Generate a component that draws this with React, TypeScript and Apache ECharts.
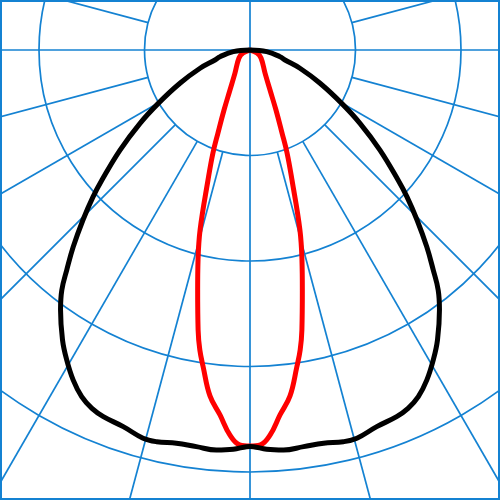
import React, { useEffect, useRef } from "react";
import * as echarts from "echarts";

// gamma angle (deg from nadir) and intensity, left half; right half mirrors it
const blackGamma = [0, 0.5, 2.4, 4.8, 7.7, 10.6, 13.4, 15.4, 18.6, 21.8, 23.8, 25.9, 28.2, 30.6, 32.9, 36.1, 38.1, 39.8, 41.9, 44.5, 46.9, 48.7, 52.4, 56.3, 59.8, 64.6, 69.9, 74.1, 77.4, 84.3, 90];
const blackValue = [375.8, 376.0, 378.8, 380.5, 379.4, 379.2, 381.7, 381.7, 376.7, 374.3, 371.3, 365.3, 354.8, 341.3, 327.2, 304.8, 289.1, 271.3, 251.0, 225.9, 203.8, 186.8, 155.5, 125.3, 100.6, 73.5, 50.4, 34.5, 29.1, 15.9, 0];

const redGamma = [0, 1.5, 3.0, 4.7, 6.6, 8.4, 9.5, 10.5, 12.3, 13.9, 15.5, 17.9, 19.8, 21.1, 23.4, 26.6, 33.1, 54, 66.8, 90];
const redValue = [375.4, 374.5, 365.4, 347.1, 330.1, 303.7, 288.2, 269.9, 232.9, 205.0, 177.1, 129.5, 103.7, 84.4, 62.0, 42.4, 26.1, 12.9, 7.2, 0];

const gridAngles = [-165, -150, -135, -120, -105, -90, -75, -60, -45, -30, -15, 0, 15, 30, 45, 60, 75, 90, 105, 120, 135, 150, 165, 180];
const radiusMax = 500;
const ringStep = 100;

const BLUE = "#1482d2";

function curve(gamma: number[], value: number[]) {
  const right = gamma.map((g, i) => [value[i], -g]).reverse();
  const left = gamma.slice(1).map((g, i) => [value[i + 1], g]);
  return [...right, ...left];
}

const App: React.FC = () => {
  const chartRef = useRef<HTMLDivElement>(null);
  useEffect(() => {
    document.body.style.margin = "0";
    const myChart = echarts.init(chartRef.current as HTMLDivElement, null, { renderer: "svg" });

    const gridSeries = gridAngles.map((a) => ({
      type: "line",
      coordinateSystem: "polar",
      silent: true,
      symbol: "none",
      lineStyle: { color: BLUE, width: 1.7 },
      data: [
        [a % 90 === 0 ? 0 : ringStep, a],
        [radiusMax, a],
      ],
    }));

    const option: echarts.EChartsOption = {
      animation: false,
      polar: { center: [250, 50], radius: 527.5 },
      angleAxis: {
        type: "value",
        min: -180,
        max: 180,
        startAngle: 90,
        clockwise: true,
        axisLine: { show: false },
        axisTick: { show: false },
        axisLabel: { show: false },
        splitLine: { show: false },
      },
      radiusAxis: {
        type: "value",
        min: 0,
        max: radiusMax,
        interval: ringStep,
        axisLine: { show: false },
        axisTick: { show: false },
        axisLabel: { show: false },
        splitLine: { lineStyle: { color: BLUE, width: 1.7 } },
      },
      graphic: [
        {
          type: "rect",
          z: 100,
          shape: { x: 1, y: 1, width: 498, height: 498 },
          style: { fill: "none", stroke: BLUE, lineWidth: 2 },
        },
      ],
      series: [
        ...(gridSeries as any),
        {
          name: "C90",
          type: "line",
          coordinateSystem: "polar",
          symbol: "none",
          smooth: 0.4,
          lineStyle: { color: "#ff0000", width: 5 },
          data: curve(redGamma, redValue),
        },
        {
          name: "C0",
          type: "line",
          coordinateSystem: "polar",
          symbol: "none",
          smooth: 0.4,
          lineStyle: { color: "#000000", width: 5 },
          data: curve(blackGamma, blackValue),
        },
      ],
    };

    myChart.setOption(option);
    return () => {
      myChart.dispose();
    };
  }, []);

  return <div ref={chartRef} style={{ width: "500px", height: "500px" }} />;
};

export default App;
